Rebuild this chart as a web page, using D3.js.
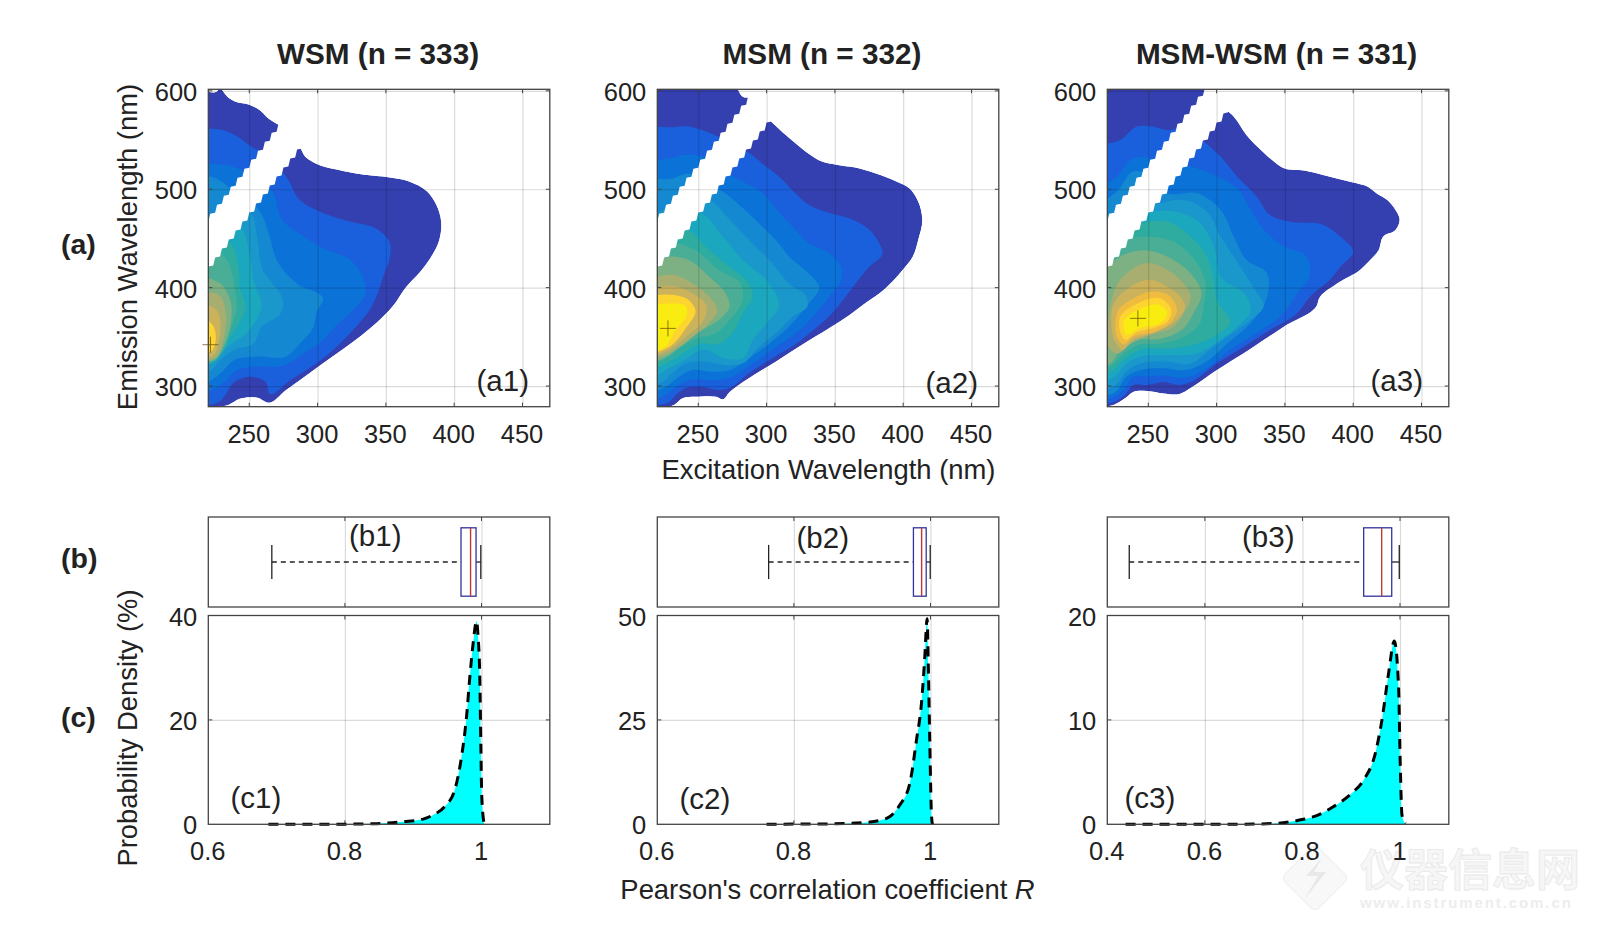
<!DOCTYPE html>
<html><head><meta charset="utf-8">
<script src="https://cdn.jsdelivr.net/npm/d3@7"></script>
<style>
html,body{margin:0;padding:0;background:#fff}
svg{display:block}
text{font-family:"Liberation Sans",Arial,sans-serif;fill:#222}
</style></head><body>
<svg id="chart" width="1600" height="932"></svg>
<script>
// ---------- Data ----------
const titles = ["WSM (n = 333)", "MSM (n = 332)", "MSM-WSM (n = 331)"];
const panelTags = [["(a1)","(b1)","(c1)"],["(a2)","(b2)","(c2)"],["(a3)","(b3)","(c3)"]];
const exTicks = [250,300,350,400,450];
const emTicks = [300,400,500,600];
const contourColors = ['#3440b0','#1a5fdc','#0b72d8','#1488d0','#1b98cb','#1ba7bd','#2dac9f','#4aae96','#7db082','#a8ae70','#ccb25a','#efbc40','#fdd430','#f8ec10'];

// contour levels as [excitation nm, emission nm] outlines, outermost first
const levelsA1 = [
 [[220,603],[226,599],[229,603],[231,599],[234,594],[240,589],[250,586],[257,581],[264,572],[273,564],[287,543],[291,533],[299,526],[314,520],[333,515],[353,512],[367,508],[380,498],[387,484],[390.5,467],[389,448],[383,431],[375,416],[365,401],[355,381],[343,364],[328,347],[311,330],[294,313],[277,296],[264,283],[256,288],[243,287],[235,281],[228,279],[220,279]],
 [[220,560],[231,560],[241,554],[253,542],[259,538],[277,513],[287,489],[304,476],[324,467],[343,460],[353,445],[353,431],[348,411],[344,394],[338,377],[328,360],[314,340],[299,323],[280,306],[265,292],[262,304],[251,309.5],[239,304],[233,292],[228,284],[220,281]],
 [[220,525],[231,525],[242,521],[248,516],[266.5,499],[274,469],[290,452],[304,440],[324,428],[333,411],[335,394],[326,377],[314,362],[304,347],[290,333],[273,320],[256,320],[241,316],[231,303],[220,289]],
 [[220,516],[228,509.5],[236,501],[257,479],[265,452],[270,428],[285,404],[304,389],[299,374],[297,360],[287,343],[277,330],[256,330],[239,326.5],[229,313],[220,296]],
 [[220,465],[251,476],[256,448.5],[259,421],[275,384],[273,374],[259,360],[253,343],[239,337],[229,326.5],[222,316],[220,313]],
 [[220,450],[243,462],[251,428],[253,408],[259,381],[248,354],[234,340],[226,326.5],[220,320]],
 [[220,440],[236,445],[242,421],[243,401],[247,381],[241,360],[231,340],[225,325],[220,321]],
 [[220,425],[229,435],[236,421],[239,401],[241,381],[237,360],[229,333],[220,323]],
 [[220,411],[229,404],[236,387.5],[237,370.5],[231,340],[226,328],[220,324]],
 [[220,394],[229,391],[232.5,377],[231,347],[226,330],[220,325]],
 [[220,384],[226,377],[228,347],[224,331.5],[220,328]],
 [[220,374],[224,360],[225,343],[222,335],[220,337]]
];
const levelsA2 = [
 [[220,603],[278,603],[282.5,594],[288.5,592.5],[301.5,571.5],[307,564],[316.6,552],[329,538],[341,528],[351,525],[365,522],[380,516],[395,508],[404.5,501],[410.5,489],[414,469],[411,448.5],[407,431.5],[399.6,418],[392,406],[382.5,394],[374,386],[360.5,372],[346,359],[326,342],[307,325],[287,308],[273,294],[268,286.5],[263,289],[248,289],[238.5,287.5],[232.5,281],[229,279],[220,279]],
 [[220,564],[229,563],[241,564],[253,560],[264,554],[287,537],[297,526],[309,513],[319,499],[331,484],[346,476],[360.5,470.5],[375,459],[382.5,445],[385,435],[375,421],[365,404],[356,387.5],[348,374],[336,359],[321.5,343],[304,328],[287,313],[273,298],[265,296],[253,299],[241,298],[233.5,291],[229,284],[220,281]],
 [[220,526],[229,531.5],[241,535],[254,533],[273,515],[297,496],[309,477],[319,462],[331,445],[346,435],[354.5,421],[354.5,408],[346,391],[334,370.5],[321.5,354],[304,337],[287,320],[275,309.5],[263,306],[243,306],[233.5,299],[226,291],[220,284]],
 [[220,509.5],[231,511],[242,516],[266.5,499],[282.5,481],[297,462],[309,445],[316.6,431.5],[331,414.5],[338.5,401],[329,381],[319,364],[302,343],[285,326.5],[273,316],[260.5,314.5],[244.6,316],[236,309.5],[226,299],[220,291]],
 [[220,465],[258,489],[273,469],[287,448.5],[302,428],[316.6,404],[329,391],[330,381],[319,370.5],[307,354],[294.6,340],[282.5,323],[273,321],[253,325],[241,323],[231,313],[224,304],[220,298]],
 [[220,460],[252,476],[268,452],[282.5,428],[302,404],[309,381],[302,367],[290,347],[282.5,328],[270,328],[253,337],[240,326.5],[231,320],[220,303]],
 [[220,445],[241,459],[258,438],[273,421],[287,404],[290,391],[282.5,374],[275,354],[265,343],[251,343],[238.5,333],[229,325],[220,315]],
 [[220,430],[233.5,445],[248,438],[265,418],[281,404],[282.5,387.5],[273,367],[263,354],[248,348],[236,338],[226,328],[220,320]],
 [[220,420],[229,431.5],[243,428],[258,411],[270,394],[273,381],[265,367],[253,357],[241,347],[229,331.5],[220,323]],
 [[220,404],[231,413],[246,404],[258,391],[264,377],[258,364],[246,350],[231,335],[220,326.5]],
 [[220,394],[233.5,401],[246,394],[256,381],[254,367],[241,350],[229,337],[220,330]],
 [[220,387.5],[232.5,392.5],[243,387.5],[248,377],[241,359],[229,340],[220,333]],
 [[220,377],[230,384],[241,381],[242,374],[232.5,355],[226,340],[220,337]]
];
const levelsA3 = [
 [[220,603],[293,603],[307,581],[312.5,574],[322,555],[334,538],[344,526],[350,521],[364,519],[378,514.6],[388,511],[400,507],[410,503],[417,496],[425,489],[431,479],[434,469.5],[431,458.6],[422,452],[418.6,438],[412.5,428],[405,418],[388,404],[375,389],[373.5,382],[349,360],[325,338],[300,316],[281,298],[273,292],[261,292.5],[249,295],[239,294],[233,287.5],[225,281],[220,279]],
 [[220,543],[229.5,550],[242,564],[251.5,564],[266,560],[276,564],[292,547],[303,533],[315,513],[329.5,492.5],[339,474],[354,467],[378,464],[390.5,452],[400,436.6],[390.5,421],[383,408],[368.5,391],[359,374],[339,357],[320,340],[300,323],[281,304],[273,301],[261,304],[249,301],[239,301],[233,291],[225,284],[220,281]],
 [[220,496],[227,513],[239,531.5],[251.5,531.5],[260,526],[281,523],[298,514.6],[315,501],[325,479],[334.5,459],[349,442],[366,431.5],[368,411],[359,394],[349,374],[329.5,354],[310,337],[290.5,316],[276,308],[261,311],[249,309.5],[239,309.5],[233,298],[225,289],[220,284]],
 [[220,479],[228,499],[239,518],[250,516],[264,496],[286,496],[303,479],[312.5,452],[322,428],[337,414.5],[337,391],[325,364],[307.6,343],[290.5,323],[276,316],[261,318],[244,316],[234,309.5],[226,294],[220,289]],
 [[220,450],[259,486],[276,489],[293,477],[303,452],[312.5,431.5],[328,398],[334.5,381],[325,367],[307.6,350],[295,337],[281,323],[261,325],[244,323],[234,315],[226,301],[220,294]],
 [[220,440],[250,476],[271,477],[288,465.5],[298,442],[303,411],[322,391],[325,377],[315,360],[303,347],[285.6,333],[264,331.5],[244,330],[234,323],[225,309.5],[220,301]],
 [[220,425],[242,464],[264,467],[281,452],[293,431.5],[298,408],[300,387.5],[310,364],[300,352],[285.6,343],[264,338],[244,337],[233,328],[223,315],[220,309.5]],
 [[220,415],[234,448.5],[251.5,452],[271,445],[285.6,425],[292,404],[290.5,381],[288,364],[276,350],[259,343],[243,342],[232,333],[223,321],[220,316]],
 [[220,400],[229.5,431.5],[246.6,438],[264,431.5],[281,414.5],[289,394],[283,374],[276,359],[259,348],[242,347],[229.5,337],[222,323],[220,322]],
 [[221,370],[229.5,408],[249,425],[264,418],[276,404],[281,391],[276,374],[268.5,360],[251.5,352],[237,343],[227,333],[221,340]],
 [[224,381],[234,398],[250,408],[264,401],[274,390],[277,381],[271,367],[256,355],[239,347],[231,337],[225,347],[223,364]],
 [[228,377],[239,389],[254,396],[266,391],[271,377],[266,364],[254,355],[239,350],[232,342],[227,350],[226,364]],
 [[229.5,370.5],[242,384],[259,389],[267,377],[265,367],[254,359],[242,355],[233,347],[229,357]],
 [[232,365],[242,377],[259,382],[264,374],[259,364],[244,359],[234,352]]
];
const colorIndexA1 = [0,1,2,3,4,5,6,7,8,9,10,12];
const colorIndexA2 = [0,1,2,3,4,5,6,7,8,9,10,12,13];
const colorIndexA3 = [0,1,2,3,4,5,6,7,8,9,10,11,12,13];
const peakA1 = [221.6,342], peakA2 = [227.8,358.6], peakA3 = [242.4,368.8];

// box plot statistics: low whisker, q1, median, q3, high whisker
const boxB1 = [0.693,0.970,0.984,0.992,0.999];
const boxB2 = [0.763,0.975,0.987,0.9937,0.9996];
const boxB3 = [0.445,0.9255,0.9624,0.983,0.9985];

// probability density
const rC1 = [.688,.75,.80,.841,.885,.9146,.9292,.9463,.9609,.9707,.9781,.9829,.9877,.9927,.995,.9975,.999,1.0004,1.0038];
const dC1 = [0,0,.03,.1,.5,1.0,1.8,3.4,6.6,12.9,20.6,28.2,34.6,38.9,35.9,28.2,15.5,5.3,0.1];
const rC2 = [.76,.8,.85,.9014,.9356,.955,.9697,.9795,.9868,.9917,.995,.9971,.999,1.0014,1.0028];
const dC2 = [0,.05,.1,.4,1.4,4.6,9.8,20.2,29,40.2,49.2,35.4,19.4,2.2,0];
const rC3 = [.4375,.6,.70,.748,.802,.823,.864,.9017,.9255,.9494,.963,.9767,.9883,.997,1.0006,1.004,1.011];
const dC3 = [0,0,.02,.1,.48,.73,1.7,3,4.25,6.8,10,14.5,17.55,13.2,5.5,.9,.05];

const rDomains = [[0.6,1.1],[0.6,1.1],[0.4,1.1]];
const rTicks = [[0.6,0.8,1],[0.6,0.8,1],[0.4,0.6,0.8,1]];
const dDomains = [[0,40],[0,50],[0,20]];
const dTicks = [[0,20,40],[0,25,50],[0,10,20]];

// scatter-band limits in emission at Ex = 220 and their slope
const bandLow = 421.5, bandHigh = 467, bandSlope = 1.83, bandStep = 5;

// ---------- Layout ----------
const lefts = [208.3,657.3,1107.3], W = 341.5;
const titleCx = [378,822,1276.5];
const aTop = 89.3, aBot = 406.7, bTop = 517, bBot = 607, cTop = 615.5, cBot = 824.3;
const tickFont = 25.5, tagFont = 29.5, labelFont = 27.4;
const svg = d3.select("#chart");
const defs = svg.append("defs");
const gridCol = "rgba(0,0,0,0.14)", boxCol = "#444";

// watermark sits beneath everything else
const wm = svg.append("g");
wm.append("rect").attr("x",-24).attr("y",-24).attr("width",48).attr("height",48).attr("rx",6)
  .attr("transform","translate(1315,878) rotate(45)").attr("fill","#f8f8f8").attr("stroke","#ededed");
wm.append("path").attr("d","M1322,858 L1306,876 L1318,876 L1304,900 L1326,872 L1314,872 Z").attr("fill","#e8e8e8");
wm.append("text").attr("x",1360).attr("y",886).attr("font-size",44).attr("font-weight","bold")
  .style("font-family",'"Noto Sans CJK SC"').style("fill","#f6f6f6").style("stroke","#e8e8e8").style("stroke-width",0.8).text("仪器信息网");
wm.append("text").attr("x",1360).attr("y",908).attr("font-size",15).attr("font-weight","bold").attr("letter-spacing",1.9)
  .style("fill","#ededed").text("www.instrument.com.cn");

function frame(g,w,h){
  g.append("rect").attr("width",w).attr("height",h).attr("fill","none").attr("stroke",boxCol).attr("stroke-width",1.3);
}
function grids(g,x,y,xt,yt,w,h){
  const gx = g.append("g").attr("transform",`translate(0,${h})`)
    .call(d3.axisBottom(x).tickValues(xt).tickSize(-h).tickFormat(""));
  gx.select(".domain").remove();
  gx.selectAll("line").attr("stroke",gridCol).attr("stroke-width",1.2);
  if(yt){
    const gy = g.append("g").call(d3.axisLeft(y).tickValues(yt).tickSize(-w).tickFormat(""));
    gy.select(".domain").remove();
    gy.selectAll("line").attr("stroke",gridCol).attr("stroke-width",1.2);
  }
  // short inward ticks
  [[0,-4],[-h,4]].forEach(([ty,l])=>{
    g.append("g").selectAll("line").data(xt).join("line")
      .attr("x1",d=>x(d)).attr("x2",d=>x(d)).attr("y1",h+ty).attr("y2",h+ty+l)
      .attr("stroke",boxCol).attr("stroke-width",1);
  });
  if(yt)[[0,4],[w,-4]].forEach(([tx,l])=>{
    g.append("g").selectAll("line").data(yt).join("line")
      .attr("y1",d=>y(d)).attr("y2",d=>y(d)).attr("x1",tx).attr("x2",tx+l)
      .attr("stroke",boxCol).attr("stroke-width",1);
  });
}
function labelsX(g,x,ticks,h,pad,fmt){
  const a = g.append("g").attr("transform",`translate(-1,${h})`)
    .call(d3.axisBottom(x).tickValues(ticks).tickSize(0).tickPadding(pad).tickFormat(fmt||(d=>d)));
  a.select(".domain").remove();
  a.selectAll("text").attr("font-size",tickFont).style("font-family",'"Liberation Sans",Arial,sans-serif').attr("fill","#222");
}
function labelsY(g,y,ticks){
  const a = g.attr("transform","translate(0,1.5)").call(d3.axisLeft(y).tickValues(ticks).tickSize(0).tickPadding(11));
  a.select(".domain").remove();
  a.selectAll("text").attr("font-size",tickFont).style("font-family",'"Liberation Sans",Arial,sans-serif').attr("fill","#222");
}

const allLevels = [levelsA1,levelsA2,levelsA3];
const allIdx = [colorIndexA1,colorIndexA2,colorIndexA3];
const peaks = [peakA1,peakA2,peakA3];
const boxes = [boxB1,boxB2,boxB3];
const curves = [[rC1,dC1],[rC2,dC2],[rC3,dC3]];

lefts.forEach((L,i)=>{
  // ---- contour panel
  const h = aBot-aTop;
  const x = d3.scaleLinear().domain([220,470]).range([0,W]);
  const y = d3.scaleLinear().domain([279,601.6]).range([h,0]);
  const g = svg.append("g").attr("transform",`translate(${L},${aTop})`);
  const clipBox = `clipA${i}`;
  defs.append("clipPath").attr("id",clipBox).append("rect").attr("width",W).attr("height",h);
  const shape = d3.line().x(d=>x(d[0]<=220?210:d[0])).y(d=>y(d[1])).curve(d3.curveCatmullRomClosed.alpha(0.85));
  const body = g.append("g").attr("clip-path",`url(#${clipBox})`);
  const clipOuter = `clipO${i}`;
  defs.append("clipPath").attr("id",clipOuter).append("path").attr("d",shape(allLevels[i][0]));
  const inner = body.append("g").attr("clip-path",`url(#${clipOuter})`);
  inner.selectAll("path").data(allLevels[i]).join("path")
    .attr("d",shape).attr("fill",(d,k)=>contourColors[allIdx[i][k]]);
  // white excluded scatter band with shallow teeth on its edges
  const bandEx = d3.range(220,340,bandStep);
  const lo = e=>bandLow+bandSlope*(e-220), hi = e=>bandHigh+bandSlope*(e-220);
  const low = bandEx.flatMap(e=>[[e,lo(e)],[e+.72*bandStep,lo(e)+.12*bandSlope*bandStep]]);
  const high = bandEx.flatMap(e=>[[e,hi(e)],[e+.28*bandStep,hi(e)+.88*bandSlope*bandStep]]);
  const bandPts = low.concat(high.reverse());
  body.append("path").attr("fill","#fff")
    .attr("d",d3.line().x(d=>x(d[0])).y(d=>y(d[1])).curve(d3.curveLinear)(bandPts)+"Z");
  grids(g,x,y,exTicks,emTicks,W,h);
  // peak marker
  const gp = g.append("g").attr("stroke","rgba(110,80,10,0.75)").attr("stroke-width",1);
  gp.append("line").attr("x1",x(peaks[i][0])-8).attr("x2",x(peaks[i][0])+8).attr("y1",y(peaks[i][1])).attr("y2",y(peaks[i][1]));
  gp.append("line").attr("x1",x(peaks[i][0])).attr("x2",x(peaks[i][0])).attr("y1",y(peaks[i][1])-8).attr("y2",y(peaks[i][1])+8);
  frame(g,W,h);
  labelsX(g,x,exTicks,h,18);
  labelsY(g.append("g"),y,emTicks);

  // ---- box plot panel
  const hb = bBot-bTop;
  const xr = d3.scaleLinear().domain(rDomains[i]).range([0,W]);
  const yb = d3.scaleLinear().domain([0,1]).range([hb,0]);
  const gb = svg.append("g").attr("transform",`translate(${L},${bTop})`);
  grids(gb,xr,yb,rTicks[i].filter(v=>v>rDomains[i][0]),null,W,hb);
  frame(gb,W,hb);
  const [wLo,q1,med,q3,wHi] = boxes[i];
  const mid = yb(0.5), boxH = 0.38, capH = 0.19;
  gb.append("line").attr("x1",xr(wLo)).attr("x2",xr(q1)).attr("y1",mid).attr("y2",mid)
    .attr("stroke","#222").attr("stroke-width",1.3).attr("stroke-dasharray","5,4");
  gb.append("line").attr("x1",xr(q3)).attr("x2",xr(wHi)).attr("y1",mid).attr("y2",mid)
    .attr("stroke","#222").attr("stroke-width",1.3);
  [wLo,wHi].forEach(v=>gb.append("line").attr("x1",xr(v)).attr("x2",xr(v))
    .attr("y1",yb(0.5+capH)).attr("y2",yb(0.5-capH)).attr("stroke","#222").attr("stroke-width",1.3));
  gb.append("rect").attr("x",xr(q1)).attr("width",xr(q3)-xr(q1)).attr("y",yb(0.5+boxH)).attr("height",yb(0.5-boxH)-yb(0.5+boxH))
    .attr("fill","none").attr("stroke","#33339c").attr("stroke-width",1.3);
  gb.append("line").attr("x1",xr(med)).attr("x2",xr(med)).attr("y1",yb(0.5+boxH)).attr("y2",yb(0.5-boxH))
    .attr("stroke","#c0392b").attr("stroke-width",1.4);

  // ---- density panel
  const hc = cBot-cTop;
  const yc = d3.scaleLinear().domain(dDomains[i]).range([hc,0]);
  const gc = svg.append("g").attr("transform",`translate(${L},${cTop})`);
  grids(gc,xr,yc,rTicks[i].filter(v=>v>rDomains[i][0]),dTicks[i].filter(v=>v>0&&v<dDomains[i][1]),W,hc);
  const pts = curves[i][0].map((r,k)=>[r,curves[i][1][k]]);
  gc.append("path").attr("fill","#00ffff")
    .attr("d",d3.area().x(d=>xr(d[0])).y0(yc(0)).y1(d=>yc(d[1])).curve(d3.curveMonotoneX)(pts));
  gc.append("path").attr("fill","none").attr("stroke","#000").attr("stroke-width",3).attr("stroke-dasharray","10,7")
    .attr("d",d3.line().x(d=>xr(d[0])).y(d=>yc(d[1])).curve(d3.curveMonotoneX)(pts));
  frame(gc,W,hc);
  labelsX(gc,xr,rTicks[i],hc,18,d=>d===1?"1":d.toFixed(1));
  labelsY(gc.append("g"),yc,dTicks[i]);

  // title
  svg.append("text").attr("x",titleCx[i]).attr("y",64).attr("text-anchor","middle")
    .attr("font-size",29.7).attr("font-weight","bold").attr("fill","#111").text(titles[i]);
});

// panel tags
const tagPos = [[476.5,391],[925.5,393],[1370.5,391],[349,546],[796.5,548],[1242,547],[230.5,808],[679.5,809],[1124.5,808]];
const tagText = [panelTags[0][0],panelTags[1][0],panelTags[2][0],panelTags[0][1],panelTags[1][1],panelTags[2][1],panelTags[0][2],panelTags[1][2],panelTags[2][2]];
tagText.forEach((t,k)=>svg.append("text").attr("x",tagPos[k][0]).attr("y",tagPos[k][1]).attr("font-size",tagFont).text(t));

// row labels
[["(a)",254],["(b)",568],["(c)",727]].forEach(([t,yy])=>svg.append("text").attr("x",61).attr("y",yy)
  .attr("font-size",28.5).attr("font-weight","bold").attr("fill","#111").text(t));

// axis titles
function vtext(t,cy){svg.append("text").attr("transform",`translate(137,${cy}) rotate(-90)`).attr("text-anchor","middle").attr("font-size",labelFont).text(t);}
vtext("Emission Wavelength (nm)",247);
vtext("Probability Density (%)",728);
svg.append("text").attr("x",828.5).attr("y",479).attr("text-anchor","middle").attr("font-size",labelFont).text("Excitation Wavelength (nm)");
const pc = svg.append("text").attr("x",827.5).attr("y",899).attr("text-anchor","middle").attr("font-size",labelFont);
pc.append("tspan").text("Pearson's correlation coefficient ");
pc.append("tspan").attr("font-style","italic").text("R");
</script>
</body></html>
